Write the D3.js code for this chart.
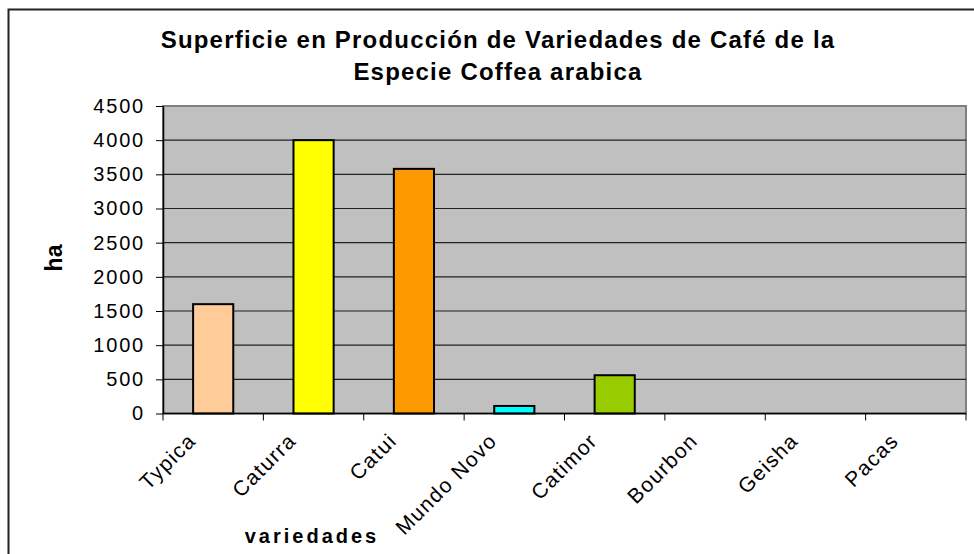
<!DOCTYPE html>
<html>
<head>
<meta charset="utf-8">
<script src="https://cdn.jsdelivr.net/npm/d3@7"></script>
<style>
  body { margin: 0; background: #fff; }
  svg { display: block; font-family: "Liberation Sans", Arial, sans-serif; }
</style>
</head>
<body>
<svg id="chart" width="974" height="554"></svg>
<script>
var categories = ["Typica", "Caturra", "Catui", "Mundo Novo", "Catimor", "Bourbon", "Geisha", "Pacas"];
var values = [1600, 4000, 3580, 110, 560, 0, 0, 0];
var colors = ["#FFCC99", "#FFFF00", "#FF9900", "#00FFFF", "#99CC00", "#C0C0C0", "#C0C0C0", "#C0C0C0"];
var yTicks = [0, 500, 1000, 1500, 2000, 2500, 3000, 3500, 4000, 4500];

var svg = d3.select("#chart"),
    plotL = 163, plotR = 966, plotT = 106, plotB = 413.5;

// outer chart frame (only top & left edges fall inside the window)
svg.append("rect")
   .attr("x", 8.5).attr("y", 9.5)
   .attr("width", 1200).attr("height", 800)
   .attr("fill", "none")
   .attr("stroke", "#222")
   .attr("stroke-width", 2);

var x = d3.scaleBand().domain(categories).range([plotL, plotR]).paddingInner(0.6).paddingOuter(0.3);
var xTick = d3.scaleBand().domain(categories).range([plotL, plotR]);
var y = d3.scaleLinear().domain([0, 4500]).range([plotB, plotT]);

// plot background
svg.append("rect")
   .attr("x", plotL).attr("y", plotT)
   .attr("width", plotR - plotL).attr("height", plotB - plotT)
   .attr("fill", "#C0C0C0")
   .attr("stroke", "#808080")
   .attr("stroke-width", 2);

// gridlines
svg.append("g")
   .selectAll("line")
   .data(yTicks.slice(1, -1))
   .enter().append("line")
   .attr("x1", plotL).attr("x2", plotR)
   .attr("y1", function(d) { return y(d); })
   .attr("y2", function(d) { return y(d); })
   .attr("stroke", "#222")
   .attr("stroke-width", 1.2);

// bars
svg.append("g")
   .selectAll("rect")
   .data(values)
   .enter().append("rect")
   .attr("x", function(d, i) { return x(categories[i]); })
   .attr("y", function(d) { return y(d); })
   .attr("width", x.bandwidth())
   .attr("height", function(d) { return plotB - y(d); })
   .attr("fill", function(d, i) { return colors[i]; })
   .attr("stroke", function(d) { return d > 0 ? "#000" : "none"; })
   .attr("stroke-width", 2);

// y axis
var yAxis = svg.append("g")
   .attr("transform", "translate(" + plotL + ",0)")
   .call(d3.axisLeft(y).tickValues(yTicks).tickFormat(d3.format("d"))
     .tickSize(7).tickSizeOuter(0).tickPadding(11));
yAxis.select(".domain").attr("stroke", "#000").attr("stroke-width", 1.5);
yAxis.selectAll(".tick line").attr("stroke", "#000");
yAxis.selectAll("text")
   .attr("font-size", "20px")
   .attr("letter-spacing", "1.8px")
   .attr("fill", "#000")
   .attr("font-family", "Liberation Sans, Arial, sans-serif");

// x axis ticks (between categories)
var xBounds = categories.map(function(c) { return xTick(c); }).concat([plotR]);
svg.append("line")
   .attr("x1", plotL).attr("x2", plotR)
   .attr("y1", plotB).attr("y2", plotB)
   .attr("stroke", "#000").attr("stroke-width", 1.5);
svg.append("g")
   .selectAll("line")
   .data(xBounds)
   .enter().append("line")
   .attr("x1", function(d) { return d; }).attr("x2", function(d) { return d; })
   .attr("y1", plotB).attr("y2", plotB + 7)
   .attr("stroke", "#000");

// x labels
svg.append("g")
   .selectAll("text")
   .data(categories)
   .enter().append("text")
   .attr("transform", function(d) {
     return "translate(" + (xTick(d) + xTick.bandwidth() / 2 - 16) + "," + 442 + ") rotate(-45)";
   })
   .attr("text-anchor", "end")
   .attr("font-size", "21px")
   .attr("letter-spacing", "1.4px")
   .attr("fill", "#000")
   .text(function(d) { return d; });

// title
var title = svg.append("text")
   .attr("text-anchor", "middle")
   .attr("font-size", "24px")
   .attr("font-weight", "bold")
   .attr("letter-spacing", "1.2px");
title.append("tspan").attr("x", 498).attr("y", 48).text("Superficie en Producción de Variedades de Café de la");
title.append("tspan").attr("x", 498).attr("y", 80).text("Especie Coffea arabica");

// axis titles
svg.append("text")
   .attr("transform", "translate(62,258) rotate(-90)")
   .attr("text-anchor", "middle")
   .attr("font-size", "23px")
   .attr("font-weight", "bold")
   .text("ha");

svg.append("text")
   .attr("x", 312).attr("y", 543)
   .attr("text-anchor", "middle")
   .attr("font-size", "20px")
   .attr("font-weight", "bold")
   .attr("letter-spacing", "3px")
   .text("variedades");
</script>
</body>
</html>
